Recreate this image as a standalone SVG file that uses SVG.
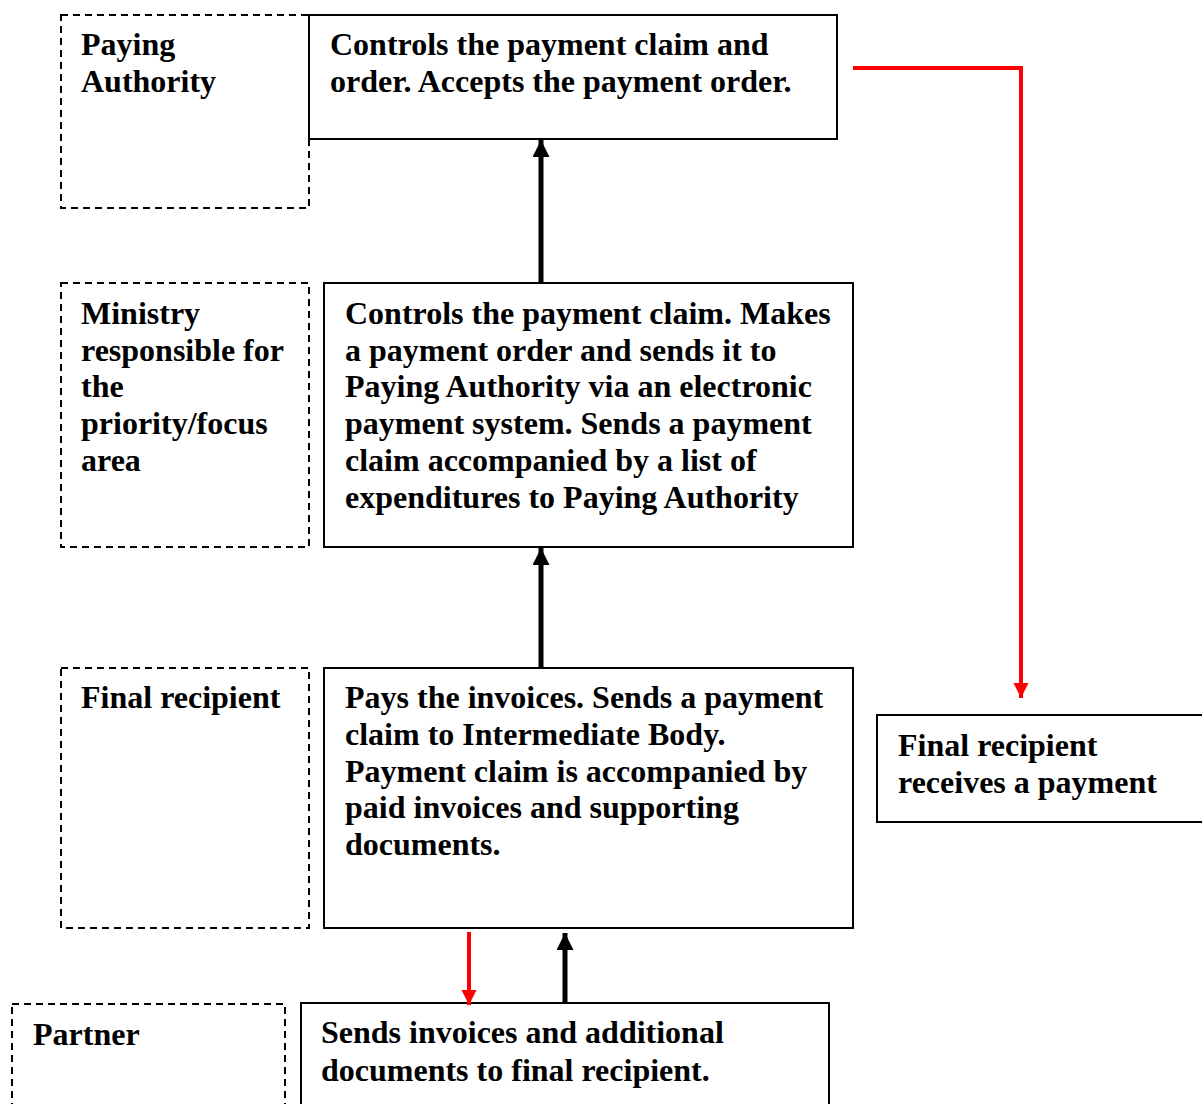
<svg xmlns="http://www.w3.org/2000/svg" width="1202" height="1104" viewBox="0 0 1202 1104">
<style>
.t{font-family:"Liberation Serif","Times New Roman",serif;font-weight:bold;font-size:32px;fill:#000}
.solid{fill:#fff;stroke:#000;stroke-width:2}
.dash{fill:none;stroke:#000;stroke-width:2;stroke-dasharray:7,5}
.blk{stroke:#000;stroke-width:5;fill:none}
.red{stroke:#f00;stroke-width:4;fill:none}
</style>
<defs>
<marker id="ab" viewBox="0 0 10 10" refX="10" refY="5" markerWidth="3.4" markerHeight="3.4" orient="auto" markerUnits="strokeWidth"><path d="M0,0L10,5L0,10z" fill="#000"/></marker>
<marker id="ar" viewBox="0 0 10 10" refX="10" refY="5" markerWidth="3.8" markerHeight="3.8" orient="auto" markerUnits="strokeWidth"><path d="M0,0L10,5L0,10z" fill="#f00"/></marker>
</defs>
<rect width="1202" height="1104" fill="#fff"/>
<g id="pa-label"><rect class="dash" x="61" y="15" width="248" height="193"/><text class="t" x="81" y="55">Paying</text><text class="t" x="81" y="92">Authority</text></g>
<g id="pa-box"><rect class="solid" x="309" y="15" width="528" height="124"/><text class="t" x="330" y="55">Controls the payment claim and</text><text class="t" x="330" y="92">order. Accepts the payment order.</text></g>
<g id="min-label"><rect class="dash" x="61" y="283" width="248" height="264"/><text class="t" x="81" y="324">Ministry</text><text class="t" x="81" y="361">responsible for</text><text class="t" x="81" y="397">the</text><text class="t" x="81" y="434">priority/focus</text><text class="t" x="81" y="471">area</text></g>
<g id="min-box"><rect class="solid" x="324" y="283" width="529" height="264"/><text class="t" x="345" y="324">Controls the payment claim. Makes</text><text class="t" x="345" y="361">a payment order and sends it to</text><text class="t" x="345" y="397">Paying Authority via an electronic</text><text class="t" x="345" y="434">payment system. Sends a payment</text><text class="t" x="345" y="471">claim accompanied by a list of</text><text class="t" x="345" y="508">expenditures to Paying Authority</text></g>
<g id="fr-label"><rect class="dash" x="61" y="668" width="248" height="260"/><text class="t" x="81" y="708">Final recipient</text></g>
<g id="fr-box"><rect class="solid" x="324" y="668" width="529" height="260"/><text class="t" x="345" y="708">Pays the invoices. Sends a payment</text><text class="t" x="345" y="745">claim to Intermediate Body.</text><text class="t" x="345" y="782">Payment claim is accompanied by</text><text class="t" x="345" y="818">paid invoices and supporting</text><text class="t" x="345" y="855">documents.</text></g>
<g id="pay-box"><rect class="solid" x="877" y="715" width="330" height="107"/><text class="t" x="898" y="756">Final recipient</text><text class="t" x="898" y="793">receives a payment</text></g>
<g id="partner-label"><rect class="dash" x="12" y="1004" width="273" height="110"/><text class="t" x="33" y="1045">Partner</text></g>
<g id="partner-box"><rect class="solid" x="301" y="1003" width="528" height="110"/><text class="t" x="321" y="1043">Sends invoices and additional</text><text class="t" x="321" y="1081">documents to final recipient.</text></g>
<g id="connectors">
<line class="blk" x1="541" y1="283" x2="541" y2="140" marker-end="url(#ab)"/>
<line class="blk" x1="541" y1="668" x2="541" y2="548" marker-end="url(#ab)"/>
<line class="blk" x1="565" y1="1003" x2="565" y2="933" marker-end="url(#ab)"/>
<line class="red" x1="469" y1="932" x2="469" y2="1005" marker-end="url(#ar)"/>
<polyline class="red" points="853,68 1021,68 1021,698" marker-end="url(#ar)"/>
</g>
</svg>
